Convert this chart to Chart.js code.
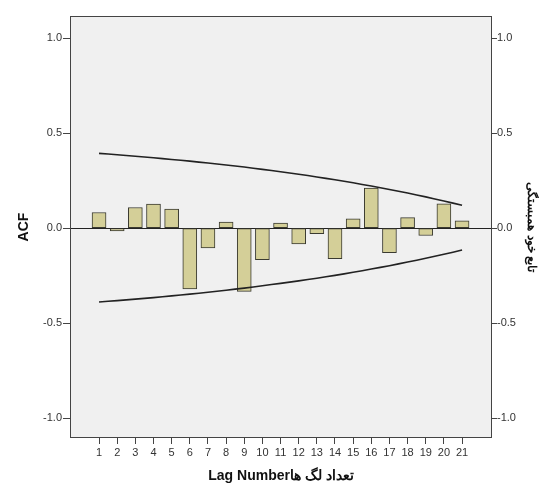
<!DOCTYPE html>
<html>
<head>
<meta charset="utf-8">
<script src="https://cdn.jsdelivr.net/npm/chart.js@4/dist/chart.umd.min.js"></script>
<style>
html,body{margin:0;padding:0;background:#fff;}
#wrap{width:540px;height:485px;}
</style>
</head>
<body>
<div id="wrap"><canvas id="c" width="540" height="485"></canvas></div>
<script>
const lags = [1,2,3,4,5,6,7,8,9,10,11,12,13,14,15,16,17,18,19,20,21];
const acf = [0.082,-0.015,0.108,0.126,0.100,-0.320,-0.105,0.032,-0.333,-0.167,0.026,-0.084,-0.030,-0.161,0.048,0.210,-0.130,0.055,-0.039,0.128,0.038];
const upperLimit = [0.393,0.386,0.378,0.370,0.361,0.352,0.342,0.332,0.321,0.309,0.296,0.283,0.269,0.254,0.238,0.221,0.203,0.184,0.164,0.142,0.120];
const lowerLimit = [-0.389,-0.382,-0.374,-0.366,-0.357,-0.348,-0.338,-0.327,-0.316,-0.304,-0.291,-0.278,-0.264,-0.249,-0.233,-0.216,-0.198,-0.179,-0.159,-0.138,-0.116];
const yTicks = [-1.0,-0.5,0.0,0.5,1.0];
const yTitle = 'ACF';
const y2Title = 'تابع خود همبستگی';
const xTitle = 'Lag Numberتعداد لگ ها';

const areaPlugin = {
  id: 'area',
  beforeDraw(chart) {
    const {ctx, chartArea: a} = chart;
    ctx.save();
    ctx.fillStyle = '#f0f0f0';
    ctx.fillRect(a.left, a.top, a.right - a.left, a.bottom - a.top);
    ctx.restore();
  },
  afterDraw(chart) {
    const {ctx, chartArea: a} = chart;
    ctx.save();
    ctx.strokeStyle = '#444';
    ctx.lineWidth = 1;
    ctx.strokeRect(a.left + 0.5, a.top + 0.5, a.right - a.left - 1, a.bottom - a.top - 1);
    ctx.restore();
  }
};

const tickFont = {family: 'Liberation Sans', size: 11};
const yScaleBase = {
  type: 'linear', min: -1.105, max: 1.116,
  afterBuildTicks: s => { s.ticks = yTicks.map(v => ({value: v})); },
  ticks: {color: '#333', font: tickFont, padding: 1, callback: v => Number(v).toFixed(1)},
  border: {display: false}
};

new Chart(document.getElementById('c'), {
  type: 'bar',
  data: {
    datasets: [
      {type: 'line', data: lags.map((l, i) => ({x: l, y: upperLimit[i]})), borderColor: '#222', borderWidth: 1.6, pointRadius: 0, tension: 0.3, fill: false, order: 0},
      {type: 'line', data: lags.map((l, i) => ({x: l, y: lowerLimit[i]})), borderColor: '#222', borderWidth: 1.6, pointRadius: 0, tension: 0.3, fill: false, order: 0},
      {type: 'bar', data: lags.map((l, i) => ({x: l, y: acf[i]})), backgroundColor: '#d4cf98', borderColor: '#3a3a30', borderWidth: 1, borderSkipped: false, barThickness: 14, order: 1}
    ]
  },
  options: {
    responsive: false,
    animation: false,
    devicePixelRatio: 1,
    layout: {padding: {top: 16, left: 0, right: 0, bottom: 0}},
    plugins: {legend: {display: false}, tooltip: {enabled: false}},
    scales: {
      x: {
        type: 'linear', min: -0.6, max: 22.65, offset: false,
        afterBuildTicks: s => { s.ticks = lags.map(v => ({value: v})); },
        afterFit: s => { s.height = 47; },
        grid: {offset: false, color: 'transparent', tickColor: '#444', tickLength: 6, drawOnChartArea: false},
        border: {display: false},
        ticks: {color: '#333', font: tickFont, padding: 2, autoSkip: false, maxRotation: 0, callback: v => String(v)},
        title: {display: true, text: xTitle, color: '#111', font: {family: 'Liberation Sans', size: 14, weight: 'bold'}, padding: {top: 0, bottom: 0}}
      },
      y: Object.assign({}, yScaleBase, {
        position: 'left',
        afterFit: s => { s.width = 70; },
        grid: {color: ctx => (ctx.tick && ctx.tick.value === 0) ? '#222' : 'transparent', tickColor: '#444', tickLength: 7, lineWidth: 1},
        title: {display: true, text: yTitle, color: '#111', font: {family: 'Liberation Sans', size: 14, weight: 'bold'}, padding: {top: 16, bottom: 0}}
      }),
      y2: Object.assign({}, yScaleBase, {
        position: 'right',
        afterFit: s => { s.width = 48; },
        grid: {drawOnChartArea: false, color: '#444', tickColor: '#444', tickLength: 5},
        ticks: {color: '#333', font: tickFont, padding: 0, callback: v => Number(v).toFixed(1)},
        title: {display: true, text: y2Title, color: '#111', font: {family: 'Noto Sans', size: 12, weight: 'bold'}, padding: {top: 1, bottom: 0}}
      })
    }
  },
  plugins: [areaPlugin]
});
</script>
</body>
</html>
